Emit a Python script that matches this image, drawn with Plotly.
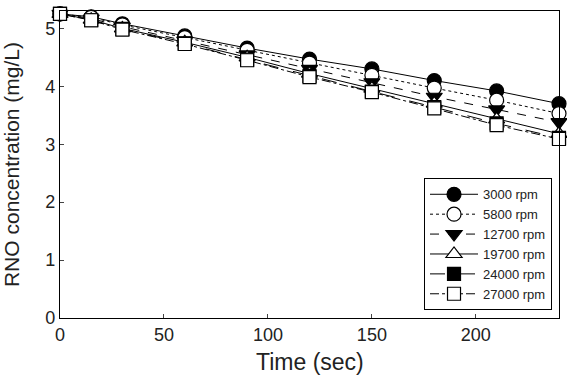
import plotly.graph_objects as go

time_sec = [0, 15, 30, 60, 90, 120, 150, 180, 210, 240]
rpm_labels = ["3000 rpm", "5800 rpm", "12700 rpm", "19700 rpm", "24000 rpm", "27000 rpm"]
r3000 = [5.25, 5.20, 5.08, 4.87, 4.66, 4.47, 4.30, 4.10, 3.92, 3.70]
r5800 = [5.25, 5.19, 5.06, 4.84, 4.62, 4.40, 4.19, 3.97, 3.76, 3.53]
r12700 = [5.25, 5.17, 5.03, 4.79, 4.55, 4.30, 4.07, 3.82, 3.60, 3.38]
r19700 = [5.25, 5.15, 5.00, 4.76, 4.50, 4.22, 3.96, 3.70, 3.43, 3.18]
r24000 = [5.25, 5.14, 4.99, 4.74, 4.46, 4.18, 3.91, 3.64, 3.36, 3.11]
r27000 = [5.25, 5.14, 4.98, 4.73, 4.45, 4.16, 3.90, 3.62, 3.33, 3.09]
x_ticks = [0, 50, 100, 150, 200]
y_ticks = [0, 1, 2, 3, 4, 5]
x_title = "Time (sec)"
y_title = "RNO concentration (mg/L)"

series = [r3000, r5800, r12700, r19700, r24000, r27000]
symbols = ["circle", "circle", "triangle-down", "triangle-up", "square", "square"]
fills = ["black", "white", "black", "white", "black", "white"]
dashes = ["solid", "dot", "dash", "solid", "longdash", "dashdot"]
sizes = [14, 14, 14, 14, 13, 13]

fig = go.Figure()
for name, vals, sym, fc, dsh, sz in zip(rpm_labels, series, symbols, fills, dashes, sizes):
    fig.add_trace(go.Scatter(
        x=time_sec, y=vals, name=name, mode="lines+markers",
        line=dict(color="black", width=1, dash=dsh),
        marker=dict(symbol=sym, size=sz, color=fc, line=dict(color="black", width=1.2)),
        cliponaxis=False,
    ))

fig.add_annotation(
    text=x_title, xref="paper", yref="paper", x=0.5, y=0,
    xanchor="center", yanchor="top", yshift=-29, showarrow=False,
    font=dict(size=23, family="Liberation Sans, Arial, sans-serif", color="#222222"),
)

fig.update_layout(
    width=567, height=375,
    margin=dict(l=60, r=8, t=11, b=57),
    plot_bgcolor="white", paper_bgcolor="white",
    font=dict(family="Liberation Sans, Arial, sans-serif", color="#222222"),
    showlegend=True,
    legend=dict(
        x=0.986, y=0.025, xanchor="right", yanchor="bottom",
        bordercolor="black", borderwidth=1, bgcolor="white",
        font=dict(size=13), tracegroupgap=0, itemwidth=48,
    ),
    xaxis=dict(
        range=[0, 240], tickvals=x_ticks, ticks="inside", ticklen=4,
        showline=True, linecolor="black", linewidth=1.2, mirror=True,
        showgrid=False, zeroline=False, tickfont=dict(size=18), automargin=False,
    ),
    yaxis=dict(
        range=[0, 5.3], tickvals=y_ticks, ticks="inside", ticklen=4,
        showline=True, linecolor="black", linewidth=1.2, mirror=True,
        showgrid=False, zeroline=False, tickfont=dict(size=18), automargin=False,
        title=dict(text=y_title, font=dict(size=21), standoff=21),
    ),
)
fig.write_html("out.html")
